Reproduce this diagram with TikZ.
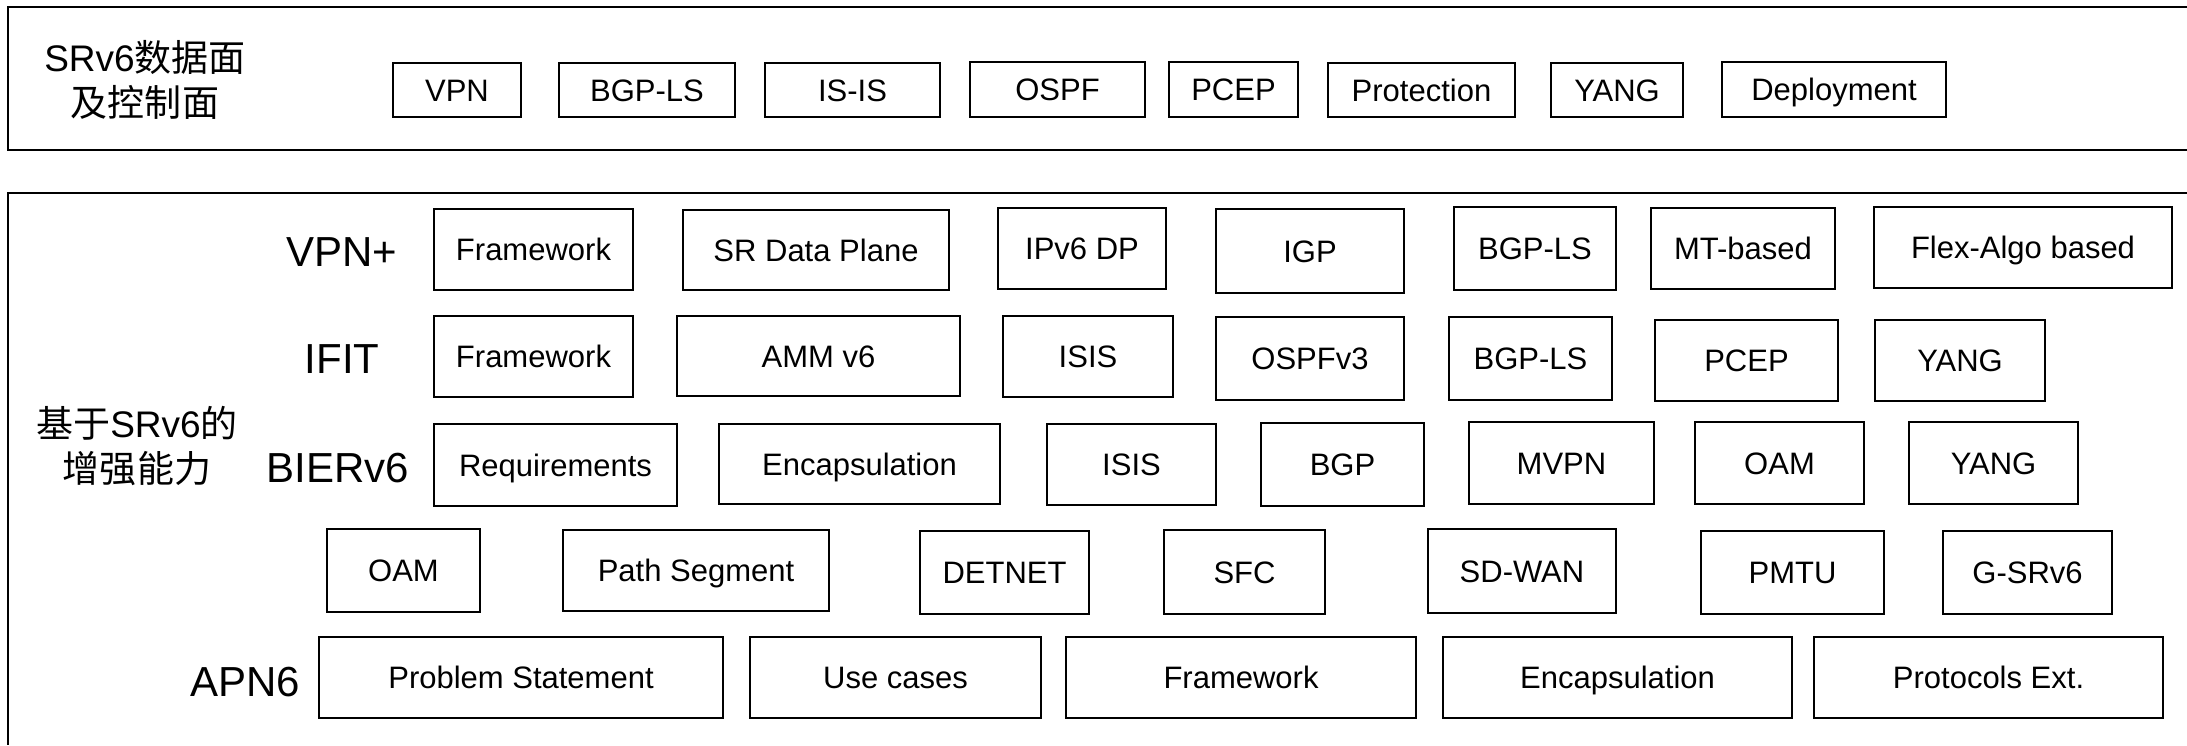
\documentclass[tikz,border=0pt]{standalone}
\usepackage{fontspec}
\setmainfont{Liberation Sans}
\newfontfamily\cjk{Noto Sans CJK SC}

\tikzset{
        cell/.style = {draw, line width=1pt, inner sep=0pt, text height=11pt, text depth=0pt,
            font=\fontsize{15.5}{18.5}\selectfont},
        rowlabel/.style = {inner sep=0pt, text height=15pt, text depth=0pt,
            font=\fontsize{21}{25}\selectfont},
        grouplabel/.style = {inner sep=0pt, align=center, font=\fontsize{18.5}{22.5}\selectfont},
        frame/.style = {line width=1.2pt}
    }

\begin{document}
\begin{tikzpicture}[x=0.5pt, y=-0.5pt]
    \useasboundingbox (0,0) rectangle (2187,745);

    % two outer frames, open on the right
    \draw[frame] (2187,7) -- (8,7) -- (8,150) -- (2187,150);
    \draw[frame] (2187,193) -- (8,193) -- (8,745);

    \node[grouplabel] (plane) at (145,80) {SRv6{\cjk 数据面}\\{\cjk 及控制面}};
    \node[grouplabel] (enhance) at (137,446) {{\cjk 基于}SRv6{\cjk 的}\\{\cjk 增强能力}};

    \node[rowlabel] (vpnplus) at (342,251) {VPN+};
    \node[rowlabel] (ifit) at (342,358) {IFIT};
    \node[rowlabel] (bierv6) at (338,467) {BIERv6};
    \node[rowlabel] (apn6) at (245,681) {APN6};

    \foreach [count=\i] \txt/\xa/\xb/\ya/\yb in {VPN/393/521/63/117, BGP-LS/559/735/63/117,
            IS-IS/765/940/63/117, OSPF/970/1145/62/117, PCEP/1169/1298/62/117,
            Protection/1328/1515/63/117, YANG/1551/1683/63/117, Deployment/1722/1946/62/117} {
        \node[cell, minimum width={(\xb-\xa)*0.5pt}, minimum height={(\yb-\ya)*0.5pt}]
            (top\i) at ({(\xa+\xb)/2},{(\ya+\yb)/2}) {\txt};
    };

    \foreach [count=\i] \txt/\xa/\xb/\ya/\yb in {Framework/434/633/209/290, SR Data Plane/683/949/210/290,
            IPv6 DP/998/1166/208/289, IGP/1216/1404/209/293, BGP-LS/1454/1616/207/290,
            MT-based/1651/1835/208/289, Flex-Algo based/1874/2172/207/288} {
        \node[cell, minimum width={(\xb-\xa)*0.5pt}, minimum height={(\yb-\ya)*0.5pt}]
            (vpn\i) at ({(\xa+\xb)/2},{(\ya+\yb)/2}) {\txt};
    };

    \foreach [count=\i] \txt/\xa/\xb/\ya/\yb in {Framework/434/633/316/397, AMM v6/677/960/316/396,
            ISIS/1003/1173/316/397, OSPFv3/1216/1404/317/400, BGP-LS/1449/1612/317/400,
            PCEP/1655/1838/320/401, YANG/1875/2045/320/401} {
        \node[cell, minimum width={(\xb-\xa)*0.5pt}, minimum height={(\yb-\ya)*0.5pt}]
            (ifit\i) at ({(\xa+\xb)/2},{(\ya+\yb)/2}) {\txt};
    };

    \foreach [count=\i] \txt/\xa/\xb/\ya/\yb in {Requirements/434/677/424/506, Encapsulation/719/1000/424/504,
            ISIS/1047/1216/424/505, BGP/1261/1424/423/506, MVPN/1469/1654/422/504,
            OAM/1695/1864/422/504, YANG/1909/2078/422/504} {
        \node[cell, minimum width={(\xb-\xa)*0.5pt}, minimum height={(\yb-\ya)*0.5pt}]
            (bier\i) at ({(\xa+\xb)/2},{(\ya+\yb)/2}) {\txt};
    };

    \foreach [count=\i] \txt/\xa/\xb/\ya/\yb in {OAM/327/480/529/612, Path Segment/563/829/530/611,
            DETNET/920/1089/531/614, SFC/1164/1325/530/614, SD-WAN/1428/1616/529/613,
            PMTU/1701/1884/531/614, G-SRv6/1943/2112/531/614} {
        \node[cell, minimum width={(\xb-\xa)*0.5pt}, minimum height={(\yb-\ya)*0.5pt}]
            (misc\i) at ({(\xa+\xb)/2},{(\ya+\yb)/2}) {\txt};
    };

    \foreach [count=\i] \txt/\xa/\xb in {Problem Statement/319/723, Use cases/750/1041,
            Framework/1066/1416, Encapsulation/1443/1792, Protocols Ext./1814/2163} {
        \node[cell, minimum width={(\xb-\xa)*0.5pt}, minimum height=40.5pt]
            (apn\i) at ({(\xa+\xb)/2},677.5) {\txt};
    };

\end{tikzpicture}
\end{document}
